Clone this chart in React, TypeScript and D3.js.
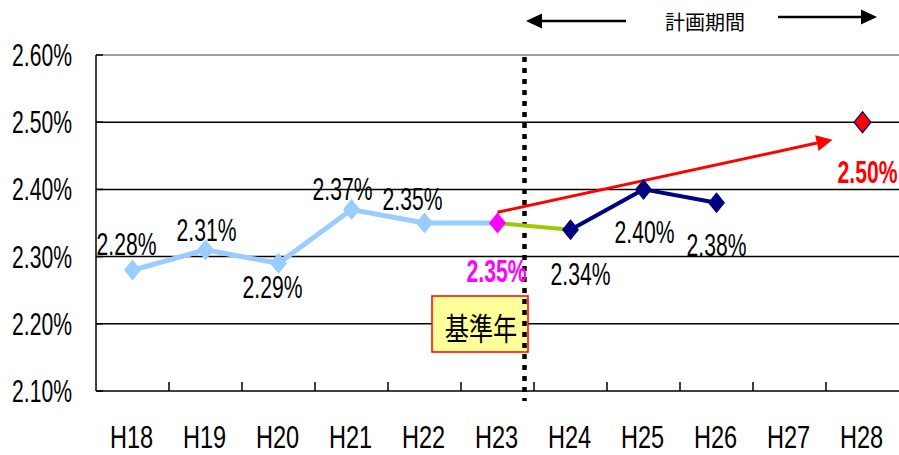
import * as d3 from "d3";

const categories = ["H18", "H19", "H20", "H21", "H22", "H23", "H24", "H25", "H26", "H27", "H28"];
const yTicks = [2.1, 2.2, 2.3, 2.4, 2.5, 2.6];

// actual values (H18-H23)
const actualCats = ["H18", "H19", "H20", "H21", "H22", "H23"];
const actualValues = [2.28, 2.31, 2.29, 2.37, 2.35, 2.35];
// bridge from base year to first plan year
const bridgeCats = ["H23", "H24"];
const bridgeValues = [2.35, 2.34];
// plan period results
const planCats = ["H24", "H25", "H26"];
const planValues = [2.34, 2.40, 2.38];
// target
const targetCat = "H28";
const targetValue = 2.5;
// trend arrow (from base year to target)
const trendFrom = { cat: "H23", value: 2.366 };
const trendTo = { cat: "H28", value: 2.474 };

const W = 899;
const H = 455;
const margin = { top: 55, right: 0, bottom: 64, left: 96 };

const x = d3.scaleBand<string>().domain(categories).range([margin.left, W - margin.right]).padding(0);
const y = d3.scaleLinear().domain([2.1, 2.6]).range([H - margin.bottom, margin.top]);
const cx = (c: string) => (x(c) ?? 0) + x.bandwidth() / 2;

const FONT = "'Liberation Sans', Arial, sans-serif";
const CJK = "'Noto Sans CJK JP', sans-serif";
const fmt = (v: number) => v.toFixed(2) + "%";

// label placement relative to each point
const labelOffsets: Record<string, [number, number]> = {
  H18: [-6, -15],
  H19: [1, -9],
  H20: [-6, 35],
  H21: [-9, -10],
  H22: [-12, -13],
  H23: [-1, 59],
  H24: [10, 55],
  H25: [1, 54],
  H26: [0, 53],
  H28: [5, 61],
};

const diamond = (px: number, py: number, w: number, h: number) =>
  `M${px},${py - h / 2}L${px + w / 2},${py}L${px},${py + h / 2}L${px - w / 2},${py}Z`;

function Label({ cat, value, fill = "#000", bold = false }: { cat: string; value: number; fill?: string; bold?: boolean }) {
  const [dx, dy] = labelOffsets[cat];
  return (
    <text
      transform={`translate(${cx(cat) + dx},${y(value) + dy}) scale(0.66,1)`}
      textAnchor="middle"
      fontFamily={FONT}
      fontSize={32}
      fontWeight={bold ? "bold" : "normal"}
      fill={fill}
    >
      {fmt(value)}
    </text>
  );
}

export default function App() {
  const line = d3
    .line<[string, number]>()
    .x(d => cx(d[0]))
    .y(d => y(d[1]));

  const x0 = margin.left;
  const x1 = W - margin.right;
  const yBottom = H - margin.bottom;
  const divider = cx("H23") + 27;

  const tf = [cx(trendFrom.cat), y(trendFrom.value)];
  const tt = [cx(trendTo.cat) - 30, y(trendTo.value)];
  const ang = Math.atan2(tt[1] - tf[1], tt[0] - tf[0]);
  const headLen = 16;
  const headW = 8;
  const hb = [tt[0] - headLen * Math.cos(ang), tt[1] - headLen * Math.sin(ang)];
  const head = `M${tt[0]},${tt[1]}L${hb[0] + headW * Math.sin(ang)},${hb[1] - headW * Math.cos(ang)}L${hb[0] - headW * Math.sin(ang)},${hb[1] + headW * Math.cos(ang)}Z`;

  return (
    <svg width={W} height={H} style={{ position: "absolute", left: 0, top: 0, background: "#fff" }}>
      {/* grid */}
      {yTicks.slice(1).map(t => (
        <line key={t} x1={x0} x2={x1} y1={y(t)} y2={y(t)} stroke={t === 2.6 ? "#808080" : "#000"} strokeWidth={1.5} />
      ))}
      {/* axes */}
      <line x1={x0} x2={x0} y1={margin.top} y2={yBottom} stroke="#000" strokeWidth={1.5} />
      <line x1={x0} x2={x1} y1={yBottom} y2={yBottom} stroke="#000" strokeWidth={1.5} />
      {yTicks.map(t => (
        <line key={"yt" + t} x1={x0} x2={x0 + 7} y1={y(t)} y2={y(t)} stroke="#000" strokeWidth={1.5} />
      ))}
      {categories.slice(1).map(c => (
        <line key={"xt" + c} x1={x(c)} x2={x(c)} y1={yBottom} y2={yBottom - 9} stroke="#000" strokeWidth={1.5} />
      ))}
      {yTicks.map(t => (
        <text
          key={"yl" + t}
          transform={`translate(72,${y(t) + 11}) scale(0.66,1)`}
          textAnchor="end"
          fontFamily={FONT}
          fontSize={32}
        >
          {fmt(t)}
        </text>
      ))}
      {categories.map(c => (
        <text
          key={"xl" + c}
          transform={`translate(${cx(c) - 1},${H - 7}) scale(0.76,1)`}
          textAnchor="middle"
          fontFamily={FONT}
          fontSize={31}
        >
          {c}
        </text>
      ))}

      {/* base year box */}
      <rect x={432} y={296} width={96} height={56} fill="#FFFF99" stroke="#FF0000" strokeWidth={1.5} />
      <text transform={`translate(481,340) scale(0.78,1)`} textAnchor="middle" fontFamily={CJK} fontSize={31} fill="#000">
        基準年
      </text>

      {/* divider */}
      <line x1={divider} x2={divider} y1={margin.top + 2} y2={yBottom + 10} stroke="#000" strokeWidth={4.5} strokeDasharray="5,6" />

      {/* plan period arrows */}
      <line x1={540} x2={626} y1={21} y2={21} stroke="#000" strokeWidth={2.5} />
      <path d="M526,21L542,13.5L542,28.5Z" fill="#000" />
      <line x1={778} x2={863} y1={17} y2={17} stroke="#000" strokeWidth={2.5} />
      <path d="M877,17L861,9.5L861,24.5Z" fill="#000" />
      <text x={705} y={30} textAnchor="middle" fontFamily={CJK} fontSize={20} fill="#000">
        計画期間
      </text>

      {/* trend arrow */}
      <line x1={tf[0]} y1={tf[1]} x2={hb[0]} y2={hb[1]} stroke="#FF0000" strokeWidth={3} />
      <path d={head} fill="#FF0000" />

      {/* series */}
      <path d={line(actualCats.map((c, i) => [c, actualValues[i]]) as [string, number][]) ?? ""} fill="none" stroke="#99CCFF" strokeWidth={5} />
      <path d={line(bridgeCats.map((c, i) => [c, bridgeValues[i]]) as [string, number][]) ?? ""} fill="none" stroke="#99CC00" strokeWidth={4} />
      <path d={line(planCats.map((c, i) => [c, planValues[i]]) as [string, number][]) ?? ""} fill="none" stroke="#000080" strokeWidth={4} />

      {actualCats.slice(0, -1).map((c, i) => (
        <path key={"am" + c} d={diamond(cx(c), y(actualValues[i]), 17, 21)} fill="#99CCFF" />
      ))}
      <path d={diamond(cx("H23"), y(actualValues[5]), 17, 21)} fill="#FF00FF" />
      {planCats.map((c, i) => (
        <path key={"pm" + c} d={diamond(cx(c), y(planValues[i]), 17, 21)} fill="#000080" />
      ))}
      <path d={diamond(cx(targetCat), y(targetValue), 17, 21)} fill="#FF0000" stroke="#000080" strokeWidth={1.2} />

      {/* labels */}
      {actualCats.slice(0, -1).map((c, i) => (
        <Label key={"al" + c} cat={c} value={actualValues[i]} />
      ))}
      <Label cat="H23" value={actualValues[5]} fill="#FF00FF" bold />
      {planCats.map((c, i) => (
        <Label key={"pl" + c} cat={c} value={planValues[i]} />
      ))}
      <Label cat={targetCat} value={targetValue} fill="#FF0000" bold />
    </svg>
  );
}
